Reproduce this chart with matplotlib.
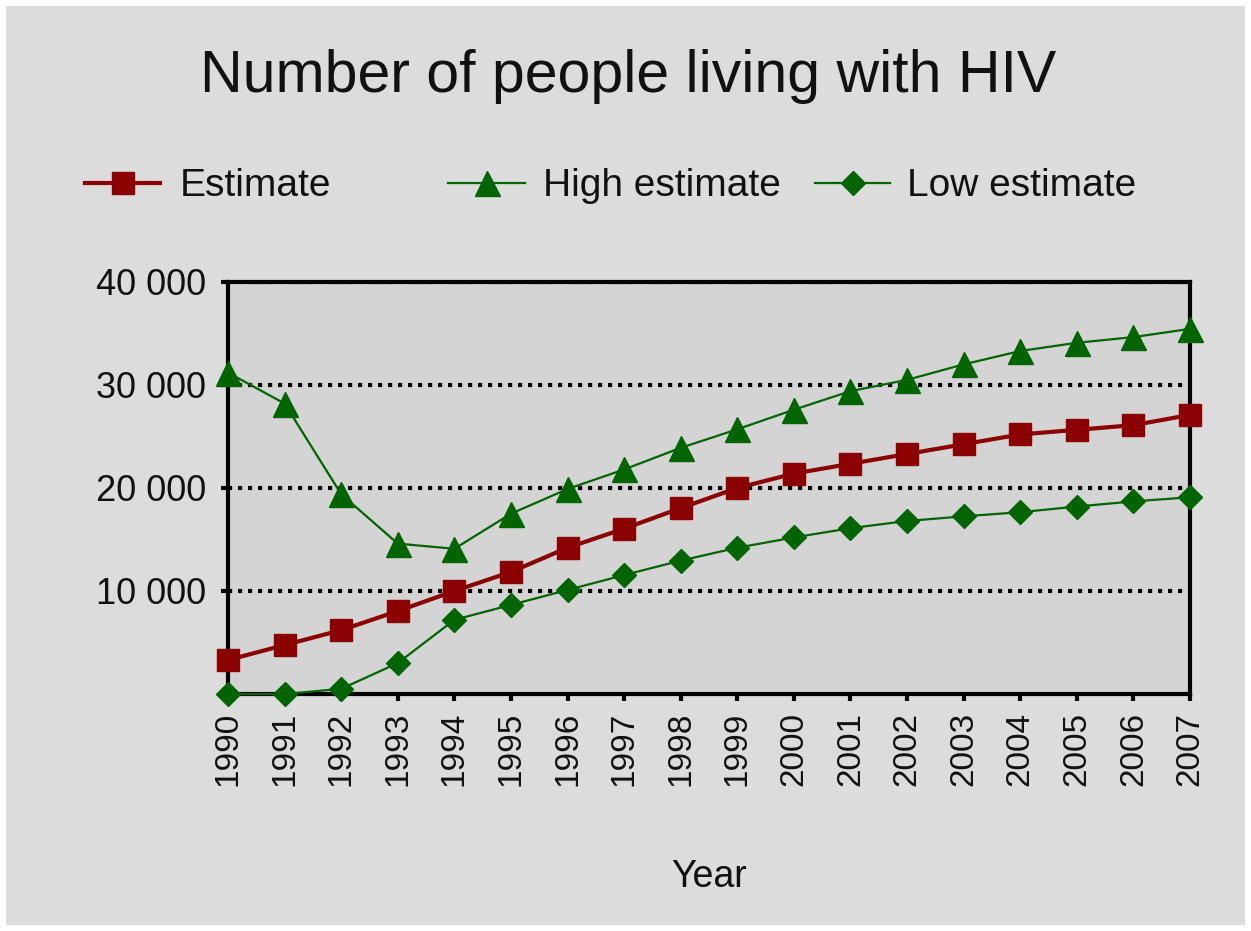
import matplotlib
matplotlib.use("Agg")
import matplotlib.pyplot as plt
from matplotlib.lines import Line2D
from matplotlib.patches import Rectangle
from matplotlib.ticker import FuncFormatter

years = list(range(1990, 2008))
estimate = [3300, 4750, 6200, 8050, 10000, 11850, 14200, 16050, 18050, 20000,
            21400, 22350, 23300, 24250, 25200, 25650, 26100, 27100]
high_estimate = [31200, 28200, 19400, 14600, 14100, 17500, 19900, 21800, 23900, 25700,
                 27600, 29400, 30500, 32000, 33300, 34100, 34650, 35450]
low_estimate = [0, 0, 500, 3000, 7200, 8650, 10100, 11550, 12950, 14200,
                15200, 16100, 16800, 17250, 17650, 18200, 18700, 19100]
yticks = [10000, 20000, 30000, 40000]

RED = "#8b0000"
GREEN = "#006400"
FIG_BG = "#dcdcdc"
AX_BG = "#d4d4d4"
TXT = "#111111"

plt.rcParams["font.family"] = ["Liberation Sans", "DejaVu Sans"]

W, H = 1251, 931
fig = plt.figure(figsize=(W / 100, H / 100), dpi=100)
fig.patch.set_facecolor("white")
fig.patches.append(Rectangle((6 / W, 6 / H), 1 - 12 / W, 1 - 12 / H,
                             transform=fig.transFigure, facecolor=FIG_BG,
                             edgecolor="none", zorder=-10))

ax = fig.add_axes([228 / W, 1 - 694 / H, (1190 - 228) / W, (694 - 282) / H])
ax.set_facecolor(AX_BG)

ax.plot(years, high_estimate, color=GREEN, lw=1.6, marker="^", ms=18,
        mec=GREEN, mfc=GREEN, clip_on=False, zorder=5)
ax.plot(years, low_estimate, color=GREEN, lw=1.6, marker="D", ms=12,
        mec=GREEN, mfc=GREEN, clip_on=False, zorder=5)
ax.plot(years, estimate, color=RED, lw=3, marker="s", ms=16.5,
        mec=RED, mfc=RED, clip_on=False, zorder=6)

ax.set_xlim(years[0], years[-1])
ax.set_ylim(0, 40000)
ax.set_xticks(years)
ax.set_xticklabels([str(y) for y in years], rotation=90, fontsize=24, color=TXT)
ax.set_yticks(yticks)
ax.yaxis.set_major_formatter(FuncFormatter(lambda v, p: f"{int(v):,}".replace(",", " ")))
ax.tick_params(axis="y", labelsize=26, labelcolor=TXT, length=5, width=3,
               direction="out", pad=11)
ax.tick_params(axis="x", length=5, width=3, direction="out", pad=8)

for yv in yticks:
    ax.axhline(yv, color="black", lw=3, linestyle=(0, (1, 1.4)), zorder=1)

for s in ax.spines.values():
    s.set_linewidth(3)
    s.set_color("black")
    s.set_zorder(4)

ax.set_xlabel("Year", fontsize=27, labelpad=52, color=TXT)

fig.text(628 / W, 1 - 92 / H, "Number of people living with HIV", fontsize=42.5,
         ha="center", va="baseline", color=TXT)

# legend drawn manually
legend_y = 1 - 183 / H
text_base = 1 - 196 / H
items = [
    (85, 160, 180, "Estimate", RED, "s", 16.5, 3),
    (448, 525, 543, "High estimate", GREEN, "^", 18, 1.6),
    (815, 890, 907, "Low estimate", GREEN, "D", 12, 1.6),
]
for x0, x1, xt, label, col, mk, ms, lw in items:
    fig.add_artist(Line2D([x0 / W, x1 / W], [legend_y, legend_y], transform=fig.transFigure,
                          color=col, lw=lw))
    fig.add_artist(Line2D([(x0 + x1) / 2 / W], [legend_y], transform=fig.transFigure,
                          color=col, marker=mk, ms=ms, mec=col, mfc=col, lw=0))
    fig.text(xt / W, text_base, label, fontsize=28, ha="left", va="baseline", color=TXT)

fig.savefig("out.png", dpi=100, facecolor=fig.get_facecolor())
